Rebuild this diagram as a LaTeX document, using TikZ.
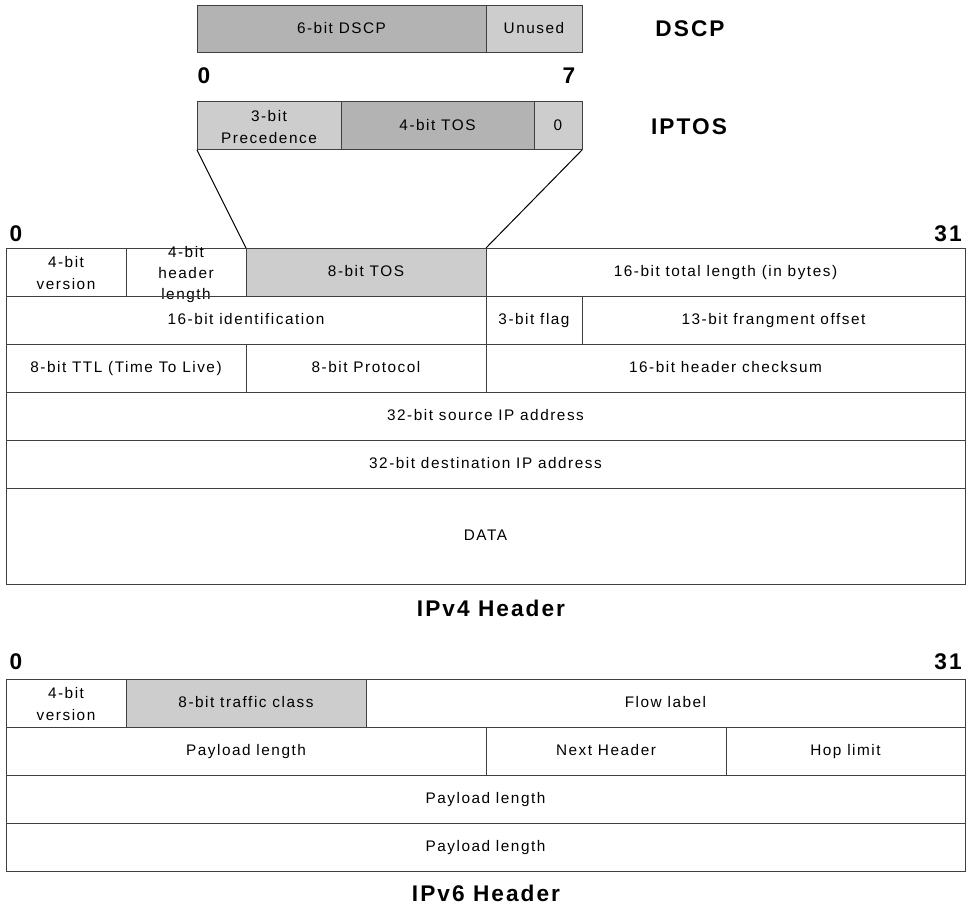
\documentclass[tikz,border=0pt]{standalone}
\usepackage{fontspec}
\usetikzlibrary{positioning, calc}
\newfontfamily\fieldfont[LetterSpace=10]{Liberation Sans}
\newfontfamily\labelfont[LetterSpace=9]{Liberation Sans}
\definecolor{darkfield}{HTML}{B3B3B3}
\definecolor{lightfield}{HTML}{CDCDCD}
\newcommand{\fieldlines}[1]{\smash{\raisebox{-1.5pt}{\begin{tabular}[c]{@{}c@{}}#1\end{tabular}}}}

\begin{document}
\begin{tikzpicture}[x=0.75pt, y=-0.75pt]

\tikzstyle{cell}=[draw=black!75, line width=0.75pt, rectangle, inner sep=0, outer sep=0, anchor=north west, font=\fieldfont\fontsize{11.5}{16}\selectfont, execute at begin node=\strut]
\tikzstyle{dark}=[cell, fill=darkfield]
\tikzstyle{light}=[cell, fill=lightfield]
\tikzstyle{size}=[minimum width={#1*0.75pt}]
\tikzstyle{tall}=[minimum height={#1*0.75pt}]
\tikzstyle{title}=[inner sep=0, font=\labelfont\bfseries\fontsize{17}{20}\selectfont]

\useasboundingbox (0, 0) rectangle (966, 909);

% DSCP byte
\node [dark, size=289, tall=47] (dscp) at (197, 6) {6-bit DSCP};
\node [light, size=96, tall=47] (unused) at (486, 6) {Unused};
\node [title] (dscp-label) at (690, 29) {DSCP};
\node [title] (tos-bit-0) at (204, 76) {0};
\node [title] (tos-bit-7) at (569, 76) {7};

% IPTOS byte
\node [light, size=144, tall=48] (prec) at (197, 102) {\fieldlines{3-bit\\Precedence}};
\node [dark, size=193, tall=48] (tos-4) at (341, 102) {4-bit TOS};
\node [light, size=48, tall=48] (tos-0) at (534, 102) {0};
\node [title] (iptos-label) at (689, 127) {IPTOS};

% IPv4 header
\node [title] (v4-bit-0) at (16, 234) {0};
\node [title] (v4-bit-31) at (948, 234) {31};

\node [cell, size=120, tall=48] (v4-ver) at (6, 248) {\fieldlines{4-bit\\version}};
\node [cell, size=120, tall=48] (v4-hlen) at (126, 248) {\fieldlines{4-bit\\header\\length}};
\node [light, size=240, tall=48] (v4-tos) at (246, 248) {8-bit TOS};
\node [cell, size=479, tall=48] (v4-tlen) at (486, 248) {16-bit total length (in bytes)};

\node [cell, size=480, tall=48] (v4-ident) at (6, 296) {16-bit identification};
\node [cell, size=96, tall=48] (v4-flag) at (486, 296) {3-bit flag};
\node [cell, size=383, tall=48] (v4-frag) at (582, 296) {13-bit frangment offset};

\node [cell, size=240, tall=48] (v4-ttl) at (6, 344) {8-bit TTL (Time To Live)};
\node [cell, size=240, tall=48] (v4-proto) at (246, 344) {8-bit Protocol};
\node [cell, size=479, tall=48] (v4-csum) at (486, 344) {16-bit header checksum};

\foreach \y/\name/\text in {392/src/32-bit source IP address, 440/dst/32-bit destination IP address}
{
	\node [cell, size=959, tall=48] (v4-\name) at (6, \y) {\text};
}
\node [cell, size=959, tall=96] (v4-data) at (6, 488) {DATA};
\node [title] (v4-label) at (491, 608) {IPv4 Header};

\draw [line width=0.75pt] (prec.south west) -- (v4-tos.north west);
\draw [line width=0.75pt] (tos-0.south east) -- (v4-tos.north east);

% IPv6 header
\node [title] (v6-bit-0) at (16, 662) {0};
\node [title] (v6-bit-31) at (948, 662) {31};

\node [cell, size=120, tall=48] (v6-ver) at (6, 679) {\fieldlines{4-bit\\version}};
\node [light, size=240, tall=48] (v6-class) at (126, 679) {8-bit traffic class};
\node [cell, size=599, tall=48] (v6-flow) at (366, 679) {Flow label};

\node [cell, size=480, tall=48] (v6-plen) at (6, 727) {Payload length};
\node [cell, size=240, tall=48] (v6-next) at (486, 727) {Next Header};
\node [cell, size=239, tall=48] (v6-hop) at (726, 727) {Hop limit};

\foreach \i/\y in {1/775, 2/823}
{
	\node [cell, size=959, tall=48] (v6-row-\i) at (6, \y) {Payload length};
}
\node [title] (v6-label) at (486, 893) {IPv6 Header};

\end{tikzpicture}
\end{document}
